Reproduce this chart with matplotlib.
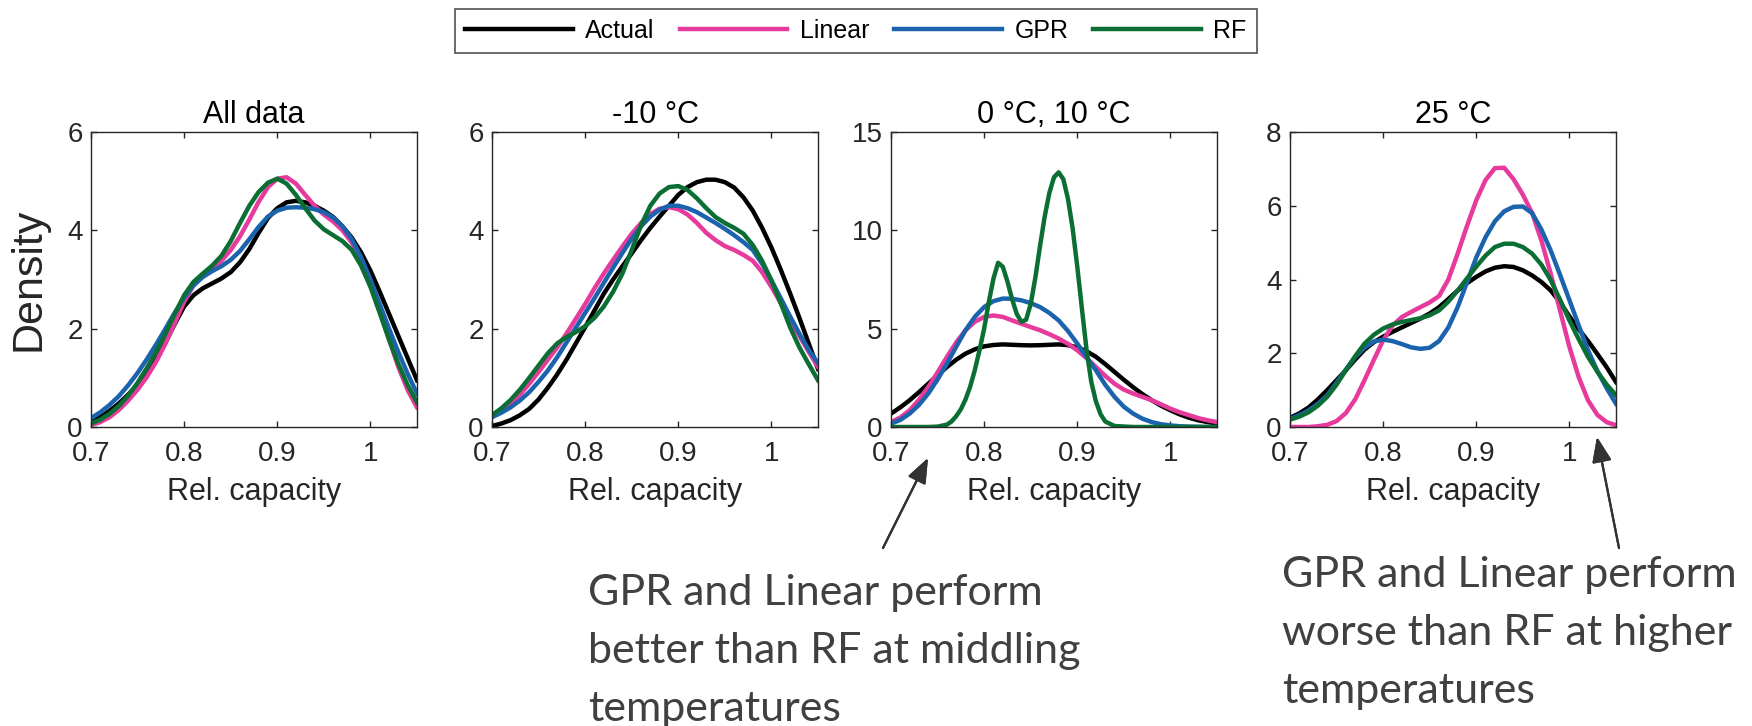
import matplotlib
matplotlib.use("Agg")
import matplotlib.pyplot as plt

plt.rcParams['font.family'] = ['Liberation Sans', 'DejaVu Sans']

# ---- data (density vs relative capacity) ----
x_grid = [0.70, 0.71, 0.72, 0.73, 0.74, 0.75, 0.76, 0.77, 0.78, 0.79,
          0.80, 0.81, 0.82, 0.83, 0.84, 0.85, 0.86, 0.87, 0.88, 0.89,
          0.90, 0.91, 0.92, 0.93, 0.94, 0.95, 0.96, 0.97, 0.98, 0.99,
          1.00, 1.01, 1.02, 1.03, 1.04, 1.05]

# All data
all_actual = [0.10, 0.20, 0.33, 0.48, 0.66, 0.86, 1.10, 1.38, 1.72, 2.10,
              2.45, 2.68, 2.82, 2.92, 3.02, 3.15, 3.35, 3.62, 3.95, 4.25,
              4.45, 4.57, 4.60, 4.57, 4.50, 4.40, 4.27, 4.08, 3.85, 3.55,
              3.18, 2.75, 2.30, 1.85, 1.40, 0.95]
all_linear = [0.04, 0.10, 0.20, 0.35, 0.54, 0.76, 1.02, 1.33, 1.70, 2.12,
              2.55, 2.88, 3.08, 3.22, 3.38, 3.60, 3.88, 4.22, 4.58, 4.88,
              5.05, 5.08, 4.95, 4.72, 4.50, 4.32, 4.18, 4.00, 3.75, 3.38,
              2.90, 2.35, 1.78, 1.22, 0.75, 0.40]
all_gpr = [0.18, 0.30, 0.45, 0.63, 0.85, 1.10, 1.38, 1.68, 2.00, 2.33,
           2.63, 2.88, 3.05, 3.17, 3.27, 3.40, 3.58, 3.82, 4.07, 4.28,
           4.40, 4.46, 4.47, 4.46, 4.43, 4.37, 4.26, 4.08, 3.82, 3.45,
           3.00, 2.50, 2.00, 1.52, 1.08, 0.68]
all_rf = [0.07, 0.15, 0.27, 0.43, 0.64, 0.90, 1.20, 1.53, 1.90, 2.30,
          2.68, 2.95, 3.12, 3.28, 3.48, 3.78, 4.15, 4.50, 4.78, 4.97,
          5.05, 4.95, 4.72, 4.45, 4.20, 4.02, 3.90, 3.78, 3.60, 3.28,
          2.85, 2.32, 1.78, 1.28, 0.85, 0.50]

# -10 C
m10_actual = [0.02, 0.07, 0.14, 0.24, 0.37, 0.56, 0.80, 1.07, 1.37, 1.70,
              2.03, 2.37, 2.71, 3.00, 3.27, 3.53, 3.80, 4.05, 4.28, 4.50,
              4.72, 4.88, 4.98, 5.03, 5.03, 4.98, 4.87, 4.67, 4.40, 4.05,
              3.65, 3.20, 2.72, 2.22, 1.70, 1.18]
m10_linear = [0.20, 0.32, 0.47, 0.66, 0.88, 1.12, 1.37, 1.62, 1.90, 2.20,
              2.50, 2.82, 3.12, 3.40, 3.67, 3.93, 4.15, 4.33, 4.44, 4.47,
              4.43, 4.32, 4.15, 3.95, 3.80, 3.68, 3.60, 3.50, 3.38, 3.15,
              2.85, 2.52, 2.17, 1.85, 1.53, 1.22]
m10_gpr = [0.20, 0.29, 0.40, 0.54, 0.71, 0.92, 1.15, 1.42, 1.72, 2.02,
           2.32, 2.62, 2.93, 3.24, 3.54, 3.83, 4.08, 4.28, 4.42, 4.50,
           4.50, 4.45, 4.37, 4.26, 4.15, 4.03, 3.90, 3.76, 3.60, 3.32,
           2.98, 2.62, 2.25, 1.90, 1.57, 1.30]
m10_rf = [0.24, 0.38, 0.55, 0.76, 1.00, 1.25, 1.50, 1.70, 1.83, 1.93,
          2.05, 2.22, 2.45, 2.75, 3.12, 3.60, 4.10, 4.50, 4.75, 4.88,
          4.90, 4.82, 4.65, 4.45, 4.27, 4.15, 4.05, 3.93, 3.70, 3.38,
          2.98, 2.52, 2.03, 1.62, 1.28, 0.95]

# 0 C, 10 C
mid_actual = [0.68, 1.00, 1.36, 1.77, 2.20, 2.63, 3.05, 3.42, 3.73, 3.95,
              4.10, 4.17, 4.20, 4.18, 4.16, 4.15, 4.16, 4.18, 4.20, 4.16,
              4.05, 3.85, 3.57, 3.20, 2.80, 2.40, 2.02, 1.67, 1.36, 1.08,
              0.85, 0.64, 0.47, 0.34, 0.25, 0.17]
mid_linear = [0.25, 0.48, 0.85, 1.38, 2.03, 2.78, 3.56, 4.30, 4.92, 5.35,
              5.60, 5.67, 5.60, 5.42, 5.25, 5.08, 4.92, 4.72, 4.50, 4.23,
              3.90, 3.50, 3.05, 2.60, 2.20, 1.90, 1.70, 1.53, 1.36, 1.15,
              0.93, 0.75, 0.60, 0.45, 0.34, 0.25]
mid_gpr = [0.17, 0.36, 0.68, 1.12, 1.70, 2.42, 3.22, 4.08, 4.92, 5.60,
           6.10, 6.40, 6.53, 6.52, 6.44, 6.30, 6.10, 5.80, 5.42, 4.88,
           4.24, 3.55, 2.88, 2.15, 1.53, 1.03, 0.68, 0.42, 0.25, 0.14,
           0.08, 0.04, 0.02, 0.01, 0.00, 0.00]
x_mid_rf = [0.70, 0.72, 0.74, 0.75, 0.76, 0.765, 0.77, 0.775, 0.78, 0.785,
            0.79, 0.795, 0.80, 0.805, 0.81, 0.815, 0.82, 0.825, 0.83, 0.835,
            0.84, 0.845, 0.85, 0.855, 0.86, 0.865, 0.87, 0.875, 0.88, 0.885,
            0.89, 0.895, 0.90, 0.905, 0.91, 0.915, 0.92, 0.925, 0.93, 0.94,
            0.96, 1.00, 1.05]
mid_rf = [0.00, 0.00, 0.00, 0.02, 0.12, 0.28, 0.55, 0.90, 1.40, 2.05,
          2.90, 3.90, 5.00, 6.35, 7.55, 8.35, 8.15, 7.40, 6.50, 5.75,
          5.35, 5.45, 6.25, 7.60, 9.20, 10.70, 11.90, 12.70, 12.95, 12.60,
          11.60, 10.10, 8.15, 6.00, 3.90, 2.30, 1.30, 0.65, 0.28, 0.05,
          0.00, 0.00, 0.00]

# 25 C
p25_actual = [0.25, 0.37, 0.53, 0.75, 1.00, 1.27, 1.54, 1.83, 2.10, 2.30,
              2.45, 2.58, 2.70, 2.82, 2.94, 3.08, 3.25, 3.47, 3.70, 3.90,
              4.07, 4.22, 4.32, 4.36, 4.34, 4.25, 4.11, 3.93, 3.70, 3.38,
              3.00, 2.65, 2.33, 1.98, 1.62, 1.22]
p25_linear = [0.00, 0.00, 0.00, 0.02, 0.06, 0.16, 0.38, 0.75, 1.27, 1.82,
              2.35, 2.75, 2.98, 3.12, 3.25, 3.38, 3.55, 4.00, 4.70, 5.45,
              6.15, 6.70, 7.02, 7.03, 6.72, 6.30, 5.80, 5.05, 4.15, 3.15,
              2.17, 1.35, 0.72, 0.33, 0.13, 0.05]
p25_gpr = [0.22, 0.32, 0.45, 0.63, 0.86, 1.20, 1.56, 1.90, 2.15, 2.32,
           2.37, 2.33, 2.25, 2.16, 2.12, 2.15, 2.33, 2.70, 3.25, 3.92,
           4.60, 5.15, 5.58, 5.85, 5.97, 5.98, 5.80, 5.35, 4.78, 4.12,
           3.44, 2.75, 2.08, 1.52, 1.05, 0.63]
p25_rf = [0.20, 0.28, 0.40, 0.58, 0.82, 1.15, 1.54, 1.92, 2.26, 2.50,
          2.67, 2.78, 2.85, 2.90, 2.95, 3.03, 3.16, 3.40, 3.70, 4.03,
          4.35, 4.65, 4.88, 4.97, 4.97, 4.88, 4.70, 4.40, 3.98, 3.45,
          2.89, 2.38, 1.90, 1.50, 1.15, 0.86]

titles = ["All data", "-10 °C", "0 °C, 10 °C", "25 °C"]
y_max = [6, 6, 15, 8]
y_ticks = [[0, 2, 4, 6], [0, 2, 4, 6], [0, 5, 10, 15], [0, 2, 4, 6, 8]]
x_ticks = [0.7, 0.8, 0.9, 1.0]
x_tick_labels = ["0.7", "0.8", "0.9", "1"]
series_names = ["Actual", "Linear", "GPR", "RF"]
colors = ["#000000", "#E63A9C", "#1C63AE", "#0B6E34"]

panels = [
    [(x_grid, all_actual), (x_grid, all_linear), (x_grid, all_gpr), (x_grid, all_rf)],
    [(x_grid, m10_actual), (x_grid, m10_linear), (x_grid, m10_gpr), (x_grid, m10_rf)],
    [(x_grid, mid_actual), (x_grid, mid_linear), (x_grid, mid_gpr), (x_mid_rf, mid_rf)],
    [(x_grid, p25_actual), (x_grid, p25_linear), (x_grid, p25_gpr), (x_grid, p25_rf)],
]

W, H = 1752, 726
fig = plt.figure(figsize=(W / 100, H / 100), dpi=100)

lefts = [91, 492, 891, 1290]
ax_w, ax_top, ax_bot = 326, 132, 427
axis_col = "#262626"

for i, left in enumerate(lefts):
    ax = fig.add_axes([left / W, 1 - ax_bot / H, ax_w / W, (ax_bot - ax_top) / H])
    for (xs, ys), c, name in zip(panels[i], colors, series_names):
        ax.plot(xs, ys, color=c, lw=3.2, label=name, solid_joinstyle='round')
    ax.set_xlim(0.7, 1.05)
    ax.set_ylim(0, y_max[i])
    ax.set_xticks(x_ticks)
    ax.set_xticklabels(x_tick_labels)
    ax.set_yticks(y_ticks[i])
    ax.tick_params(direction='in', top=True, right=True, length=4, width=1,
                   colors=axis_col, labelsize=20)
    ax.tick_params(axis='x', pad=10)
    ax.tick_params(axis='y', pad=6)
    for sp in ax.spines.values():
        sp.set_color(axis_col)
        sp.set_linewidth(1.0)
    ax.set_title(titles[i], fontsize=22, pad=6.5, color="#000000")
    ax.set_xlabel("Rel. capacity", fontsize=22, color=axis_col)
    ax.xaxis.set_label_coords(0.5, -(492 - ax_bot) / (ax_bot - ax_top))
    ax.xaxis.label.set_va('center')
    if i == 0:
        ax.set_ylabel("Density", fontsize=31, color=axis_col)
        ax.yaxis.set_label_coords(-(left - 29) / ax_w, 0.5)
        ax.yaxis.label.set_va('center')
        handles, labels = ax.get_legend_handles_labels()

leg = fig.legend(handles, labels, ncol=4, loc='center',
                 bbox_to_anchor=(856 / W, 1 - 31 / H), fontsize=18,
                 frameon=True, fancybox=False, handlelength=4.3,
                 handletextpad=0.5, columnspacing=1.0, borderpad=0.4)
leg.get_frame().set_edgecolor("#262626")
leg.get_frame().set_linewidth(1.2)

# annotations
note_font = ['Lato', 'DejaVu Sans']
note_col = "#404040"
note1 = ["GPR and Linear perform", "better than RF at middling", "temperatures"]
note2 = ["GPR and Linear perform", "worse than RF at higher", "temperatures"]
for j, line in enumerate(note1):
    fig.text(588 / W, 1 - (590 + 58 * j) / H, line, fontsize=31,
             family=note_font, color=note_col, va='center_baseline', ha='left')
for j, line in enumerate(note2):
    fig.text(1282 / W, 1 - (572 + 58 * j) / H, line, fontsize=31,
             family=note_font, color=note_col, va='center_baseline', ha='left')

arrow = dict(arrowstyle='-|>,head_length=0.9,head_width=0.35', color="#333333",
             lw=1.6, mutation_scale=17, shrinkA=0, shrinkB=0)
fig.add_artist(plt.annotate("", xy=(928, H - 458), xytext=(883, H - 548),
                            xycoords='figure pixels', textcoords='figure pixels',
                            arrowprops=arrow))
fig.add_artist(plt.annotate("", xy=(1597, H - 437), xytext=(1619, H - 548),
                            xycoords='figure pixels', textcoords='figure pixels',
                            arrowprops=arrow))

fig.savefig("out.png", dpi=100)
